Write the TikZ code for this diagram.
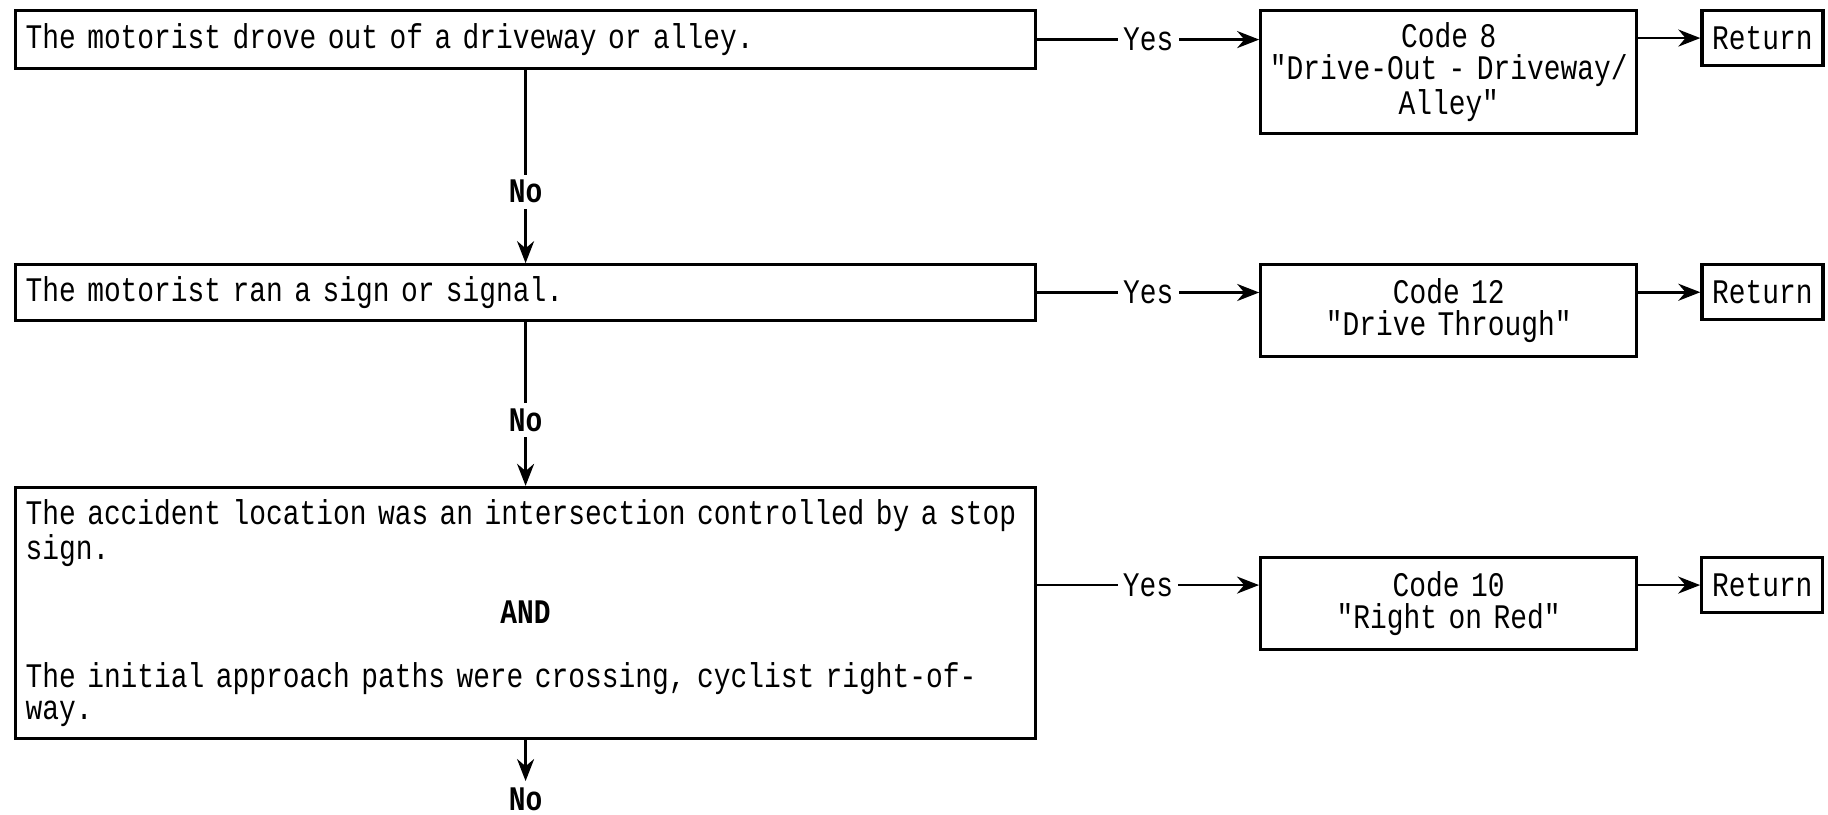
\documentclass[tikz,border=0pt]{standalone}
\usepackage{fontspec}
\setmainfont[FakeStretch=0.81, Ligatures=TeXOff]{Liberation Mono}
\usetikzlibrary{arrows.meta, positioning}
\newcommand\flowfont{\fontsize{9.8}{9.1}\selectfont}

\begin{document}
\begin{tikzpicture}[
  font=\flowfont,
  qbox/.style={draw, line width=0.9pt, align=left, text width=10.0cm,
               inner xsep=1.0mm, minimum height=5.8mm},
  codebox/.style={draw, line width=0.9pt, align=center, text width=3.6cm,
                  inner xsep=0.8mm, minimum height=9.2mm},
  retbox/.style={draw, line width=0.9pt, minimum width=12.1mm,
                 minimum height=5.5mm, inner sep=1pt},
  arr/.style={-{Stealth[length=2.2mm, width=1.7mm]}, line width=0.8pt},
  yeslbl/.style={fill=white, inner sep=1.5pt},
  nolbl/.style={fill=white, inner sep=1.5pt, font=\flowfont\bfseries}]
\useasboundingbox (0,0) rectangle (18.28,-8.15);
\node[qbox, anchor=north west] (q1) at (0.14,-0.09) {The motorist drove out of a driveway or alley.};
\node[qbox, below=1.93cm of q1, minimum height=5.5mm] (q2) {The motorist ran a sign or signal.};
\node[qbox, below=1.64cm of q2, minimum height=24.9mm] (q3) {The accident location was an intersection controlled by a stop\\ sign.\\[9.1pt] \makebox[\hsize]{\bfseries AND}\\[9.1pt] The initial approach paths were crossing, cyclist right-of-\\ way.};
\node[codebox, minimum height=11.7mm, right=2.22cm of q1.north east, anchor=north west] (c8) {Code 8\\ "Drive-Out - Driveway/\\ Alley"};
\node[codebox, right=2.22cm of q2.north east, anchor=north west] (c12) {Code 12\\ "Drive Through"};
\node[codebox, anchor=north west] (c10) at (12.59,-5.56) {Code 10\\ "Right on Red"};
\node[retbox, right=6.2mm of c8.north east, anchor=north west] (r8) {Return};
\node[retbox, right=6.2mm of c12.north east, anchor=north west] (r12) {Return};
\node[retbox, right=6.2mm of c10.north east, anchor=north west] (r10) {Return};
\node[nolbl, inner sep=0pt, below=4.7mm of q3] (no3) {No};
% no branch
\draw[arr] (q1) -- node[nolbl, pos=0.63] {No} (q2);
\draw[arr] (q2) -- node[nolbl, pos=0.6] {No} (q3);
\draw[arr, shorten >=0.6mm] (q3) -- (no3);
% yes branch
\draw[arr] (q1.east) -- node[yeslbl] {Yes} (q1.east -| c8.west);
\draw[arr] (q2.east) -- node[yeslbl] {Yes} (q2.east -| c12.west);
\draw[arr] (q3.east |- r10.west) -- node[yeslbl] {Yes} (c10.west |- r10.west);
\draw[arr] (c8.east |- r8.west) -- (r8.west);
\draw[arr] (c12.east |- r12.west) -- (r12.west);
\draw[arr] (c10.east |- r10.west) -- (r10.west);
\end{tikzpicture}
\end{document}
